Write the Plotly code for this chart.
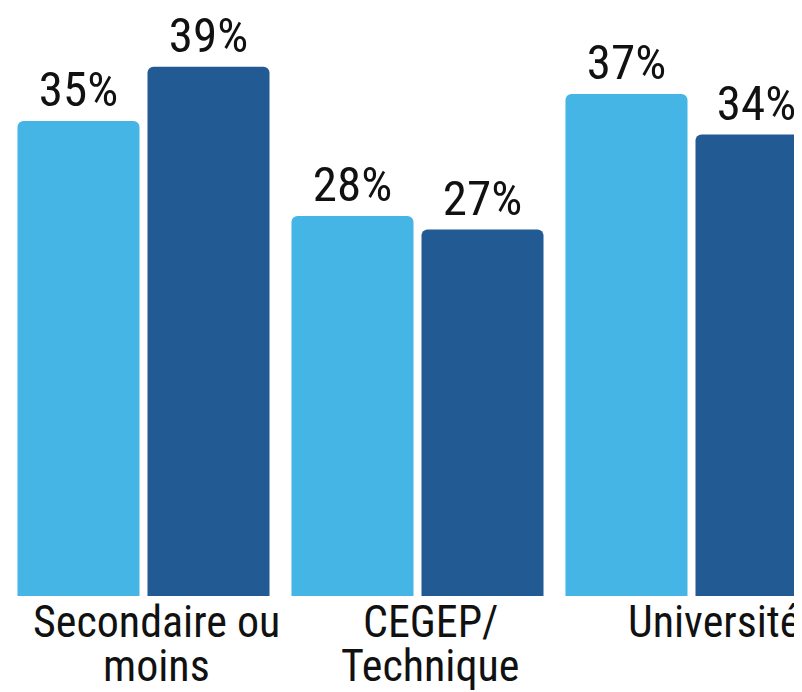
import plotly.graph_objects as go

categories = ["Secondaire ou<br>moins", "CEGEP/<br>Technique", "Université"]
series_a = [35, 28, 37]
series_b = [39, 27, 34]
series_names = ["Série A", "Série B"]
colors = ["#44B5E4", "#225A93"]

FONT = "Liberation Sans Narrow, Roboto Condensed, DejaVu Sans Condensed, sans-serif"

fig = go.Figure()
for name, vals, col in zip(series_names, [series_a, series_b], colors):
    fig.add_trace(go.Bar(
        x=list(range(len(categories))), y=vals, name=name,
        marker=dict(color=col, line=dict(width=0), cornerradius=6),
        text=[f"{v}%" for v in vals], textposition="outside",
        textfont=dict(family=FONT, size=49, color="#111111"),
        cliponaxis=False,
    ))

line_shifts = [-26, -70]
label_xshift = [13, 13, 23]
for i, c in enumerate(categories):
    for j, line in enumerate(c.split("<br>")):
        fig.add_annotation(
            x=i, y=0, xref="x", yref="y", text=line, showarrow=False,
            xanchor="center", yanchor="middle", yshift=line_shifts[j],
            xshift=label_xshift[i],
            font=dict(family=FONT, size=44, color="#111111"),
        )

fig.update_layout(
    width=794, height=684,
    margin=dict(l=0, r=0, t=0, b=96),
    paper_bgcolor="white", plot_bgcolor="white",
    barmode="group", bargap=0.051, bargroupgap=0.0615,
    showlegend=False,
    xaxis=dict(range=[-0.4945, 2.4033], showticklabels=False, showgrid=False,
               zeroline=False, showline=False, ticks=""),
    yaxis=dict(range=[0, 43.33], visible=False),
)

fig.write_html("out.html")
